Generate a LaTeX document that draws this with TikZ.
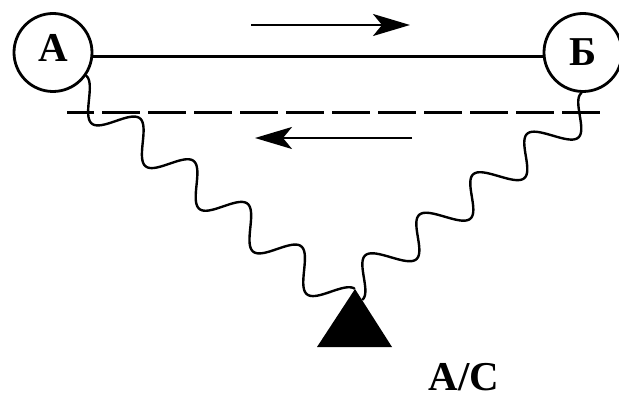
\documentclass[tikz,border=0pt]{standalone}
\usepackage{fontspec}
\setmainfont{Liberation Serif}
\usetikzlibrary{calc,arrows.meta}

\begin{document}
\begin{tikzpicture}[
  x=1pt, y=1pt,
  line join=round,
  station/.style={draw, circle, line width=2.8pt, minimum size=78pt, inner sep=0pt,
                  font=\fontsize{41}{41}\selectfont\bfseries},
  tag/.style={font=\fontsize{41}{41}\selectfont\bfseries},
  link/.style={line width=2.5pt},
  channel/.style={line width=3pt, dash pattern=on 38.3pt off 7.7pt, dash phase=11pt},
  flow/.style={line width=2.4pt, -{Stealth[length=37pt, width=22pt, inset=9pt]}},
  % sine profile along a straight segment: #2 full waves, #3 = side,
  % sheared so that the curve always ends on the target point
  declare function={
    wavey(\wa,\wb,\wc) = \wc*17*(1-cos(360*\wb*\wa)) - \wc*17*(1-cos(360*\wb))*\wa;
  },
  wavy/.style 2 args={line width=2.4pt, line cap=round,
    to path={
      let \p1=(\tikztostart), \p2=(\tikztotarget),
          \n1={veclen(\x2-\x1,\y2-\y1)} in
      plot[domain=0:1, samples=320, variable=\t]
        ({\x1+\t*(\x2-\x1)-wavey(\t,#1,#2)*(\y2-\y1)/\n1},
         {\y1+\t*(\y2-\y1)+wavey(\t,#1,#2)*(\x2-\x1)/\n1})
    }},
]
\useasboundingbox (0,0) rectangle (619,-398);

% the two stations
\node[station, text depth=10pt] (A) at (53,-52.5) {А};
\node[station] (B) at (583,-52.5) {Б};

% ground station
\coordinate (apex) at (355,-289);
\coordinate (triL) at (317,-347);
\coordinate (triR) at (392,-347);
\fill (apex) -- (triL) -- (triR) -- cycle;
\coordinate (tipR) at ($(apex)!0.19!(triR)$);
\node[tag, anchor=base] (AC) at (464,-390) {А/С};

% direct link and the return channel
\draw[link] (A.-6.5) -- (B.186.5);
\coordinate (dashL) at (67,-113);
\coordinate (dashR) at (600.5,-113);
\draw[channel] (dashL) -- (dashR);

% direction arrows
\coordinate (fwdS) at (251,-25);
\coordinate (fwdE) at (410,-25);
\draw[flow] (fwdS) -- (fwdE);
\coordinate (retS) at (412,-138);
\coordinate (retE) at (255,-138);
\draw[flow] (retS) -- (retE);

% wavy links to the ground station
\draw[wavy={5}{-1}] (A.-35) to (apex);
\draw[wavy={4.5}{1}] (B.-92) to (tipR);
\end{tikzpicture}
\end{document}
